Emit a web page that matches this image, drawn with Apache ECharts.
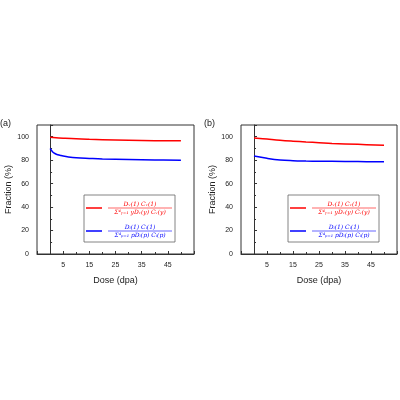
<!DOCTYPE html>
<html><head><meta charset="utf-8">
<script src="https://cdn.jsdelivr.net/npm/echarts@6/dist/echarts.min.js"></script>
<style>html,body{margin:0;background:#fff}#c{width:400px;height:400px}</style>
</head><body><div id="c"></div>
<script>
// panel (a)
var doseA_red = [0, 5, 10, 15, 20, 30, 40, 50];
var fracA_red = [99.5, 98.8, 98.2, 97.8, 97.5, 97.0, 96.6, 96.5];
var doseA_blue = [0, 0.5, 1, 2, 3, 4, 5, 7, 10, 15, 20, 30, 40, 50];
var fracA_blue = [90, 88.5, 87, 85.5, 84.6, 84, 83.5, 82.8, 82.1, 81.5, 81, 80.5, 80.2, 80];
// panel (b)
var doseB = [0, 5, 10, 15, 20, 25, 30, 40, 50];
var fracB_red = [99, 98, 97, 96.2, 95.5, 94.9, 94.3, 93.5, 92.8];
var fracB_blue = [83.5, 81.6, 80.2, 79.6, 79.3, 79.1, 79, 78.8, 78.7];
var panelLabels = ['(a)', '(b)'];

function pairs(x, y) { return x.map(function (v, i) { return [v, y[i]]; }); }

var chart = echarts.init(document.getElementById('c'));
var grids = [
  {left: 37, top: 125, width: 157, height: 129},
  {left: 241, top: 125, width: 158, height: 129}
];
var xAxes = [], yAxes = [], series = [], graphics = [];
grids.forEach(function (g, i) {
  g.show = true; g.borderColor = '#333'; g.borderWidth = 1;
  xAxes.push({type: 'value', gridIndex: i, min: -5, max: 55, interval: 10,
    name: 'Dose (dpa)', nameLocation: 'middle', nameGap: 22,
    nameTextStyle: {fontSize: 9, color: '#222', fontFamily: 'Arial'},
    axisLine: {lineStyle: {color: '#333'}}, splitLine: {show: false},
    axisTick: {inside: true, length: 3, lineStyle: {color: '#333'}},
    minorTick: {show: true, splitNumber: 2, length: 2, lineStyle: {color: '#333'}},
    axisLabel: {fontSize: 7, color: '#222', fontFamily: 'Arial',
      formatter: function (v) { return (v < 0 || v > 50) ? '' : v; }}});
  yAxes.push({type: 'value', gridIndex: i, min: 0, max: 110, interval: 20,
    name: 'Fraction (%)', nameLocation: 'middle', nameGap: 20,
    nameTextStyle: {fontSize: 9, color: '#222', fontFamily: 'Arial'},
    axisLine: {lineStyle: {color: '#333'}}, splitLine: {show: false},
    axisTick: {inside: true, length: 3, lineStyle: {color: '#333'}},
    minorTick: {show: true, splitNumber: 2, length: 2, lineStyle: {color: '#333'}},
    axisLabel: {fontSize: 7, color: '#222', fontFamily: 'Arial',
      formatter: function (v) { return v > 100 ? '' : v; }}});
  graphics.push({type: 'text', left: g.left - 37, top: 119,
    style: {text: panelLabels[i], fontSize: 9, fill: '#222', fontFamily: 'Arial'}});
  // legend box
  var lx = g.left + 47, ly = 195, lw = 91, lh = 47;
  graphics.push({type: 'rect', shape: {x: lx, y: ly, width: lw, height: lh},
    style: {fill: '#fff', stroke: '#666', lineWidth: 0.8}, z: 10});
  [['#ff0000', 'Dᵥ(1) Cᵥ(1)', 'Σ⁴ᵧ₌₁ yDᵥ(y) Cᵥ(y)', 14],
   ['#0000ff', 'Dᵢ(1) Cᵢ(1)', 'Σ⁴ₚ₌₁ pDᵢ(p) Cᵢ(p)', 37]].forEach(function (e) {
    var cy = ly + e[3] - 1;
    graphics.push({type: 'line', shape: {x1: lx + 2, y1: cy, x2: lx + 18, y2: cy},
      style: {stroke: e[0], lineWidth: 1.5}, z: 11});
    graphics.push({type: 'line', shape: {x1: lx + 24, y1: cy, x2: lx + lw - 3, y2: cy},
      style: {stroke: e[0], lineWidth: 0.6}, z: 11});
    graphics.push({type: 'text', x: lx + 24 + (lw - 27) / 2, y: cy - 1,
      style: {text: e[1], fill: e[0], fontSize: 6, fontStyle: 'italic', fontFamily: 'DejaVu Serif',
        align: 'center', verticalAlign: 'bottom'}, z: 11});
    graphics.push({type: 'text', x: lx + 24 + (lw - 27) / 2, y: cy + 1,
      style: {text: e[2], fill: e[0], fontSize: 6, fontStyle: 'italic', fontFamily: 'DejaVu Serif',
        align: 'center', verticalAlign: 'top'}, z: 11});
  });
});
var sets = [
  [0, pairs(doseA_red, fracA_red), '#ff0000'],
  [0, pairs(doseA_blue, fracA_blue), '#0000ff'],
  [1, pairs(doseB, fracB_red), '#ff0000'],
  [1, pairs(doseB, fracB_blue), '#0000ff']
];
sets.forEach(function (s) {
  series.push({type: 'line', xAxisIndex: s[0], yAxisIndex: s[0], data: s[1],
    smooth: 0.4, symbol: 'none', lineStyle: {color: s[2], width: 1.5}});
});
chart.setOption({animation: false, grid: grids, xAxis: xAxes, yAxis: yAxes,
  series: series, graphic: graphics});
</script></body></html>
